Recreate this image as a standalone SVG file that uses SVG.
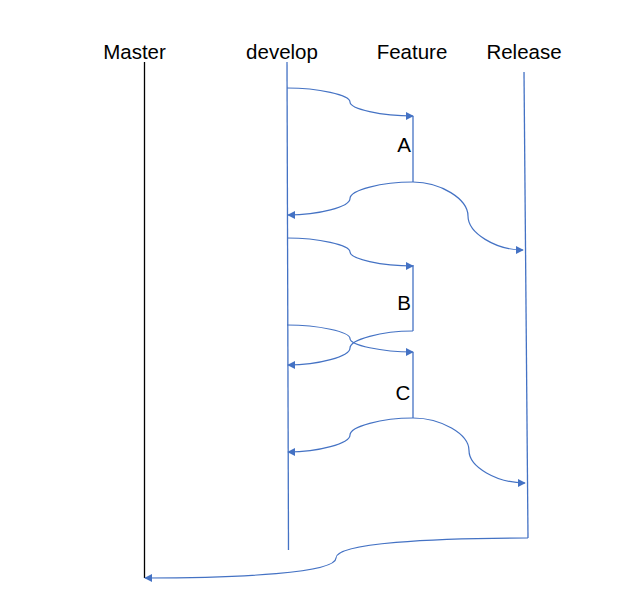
<svg xmlns="http://www.w3.org/2000/svg" width="639" height="590" viewBox="0 0 639 590">
<style>
.t{font-family:"Liberation Sans",Arial,sans-serif;font-size:20.5px;fill:#000;text-anchor:middle}
.ln{stroke:#4472C4;stroke-width:1.3;fill:none}
.c{stroke:#4472C4;stroke-width:1.2;fill:none;marker-end:url(#ah)}
</style>
<defs>
<marker id="ah" viewBox="0 0 10 10" refX="9" refY="5" markerWidth="8" markerHeight="8" markerUnits="userSpaceOnUse" orient="auto">
<path d="M0,0 L10,5 L0,10 Z" fill="#4472C4"/>
</marker>
</defs>
<rect width="639" height="590" fill="#fff"/>
<g id="master">
<text class="t" x="134.5" y="59">Master</text>
<line x1="144.5" y1="62" x2="144.5" y2="578" stroke="#000" stroke-width="1.3"/>
</g>
<g id="develop">
<text class="t" x="282" y="59">develop</text>
<line class="ln" x1="287" y1="62" x2="288.5" y2="550"/>
</g>
<g id="feature">
<text class="t" x="412" y="59">Feature</text>
</g>
<g id="release">
<text class="t" x="524" y="59">Release</text>
<line class="ln" x1="524" y1="72" x2="528" y2="538"/>
</g>
<g id="featureA">
<line class="ln" x1="413" y1="116" x2="413" y2="182"/>
<text class="t" x="404" y="152">A</text>
</g>
<g id="featureB">
<line class="ln" x1="413" y1="265" x2="413" y2="331"/>
<text class="t" x="404" y="310">B</text>
</g>
<g id="featureC">
<line class="ln" x1="413" y1="352" x2="413" y2="418"/>
<text class="t" x="403" y="400">C</text>
</g>
<g id="connectors">
<path class="c" d="M287,88 C318.5,88 350,95 350,102 C350,109 381.5,116 413,116"/>
<path class="c" d="M413,182 C381.5,182 350,190 350,198.5 C350,207 318.5,215 288,215"/>
<path class="c" d="M413,182 C440.5,182 468,199 468,216 C468,233 495.5,250 523,250"/>
<path class="c" d="M287,238 C318.5,238 350,245 350,252 C350,259 381.5,266 413,266"/>
<path class="c" d="M287,325 C318.5,325 350,331.75 350,338.5 C350,345.25 381.5,352 413,352"/>
<path class="c" d="M413,331 C381.5,331 350,339.5 350,348 C350,356.5 318.5,365 288,365"/>
<path class="c" d="M413,418 C381.5,418 350,426.5 350,435 C350,443.5 318.5,452 288,452"/>
<path class="c" d="M413,418 C441,418 469,434 469,450.5 C469,467 497,483 525,483"/>
<path class="c" d="M528,538 C432,538 336,543 336,558 C336,573 240,578 145,578"/>
</g>
</svg>
